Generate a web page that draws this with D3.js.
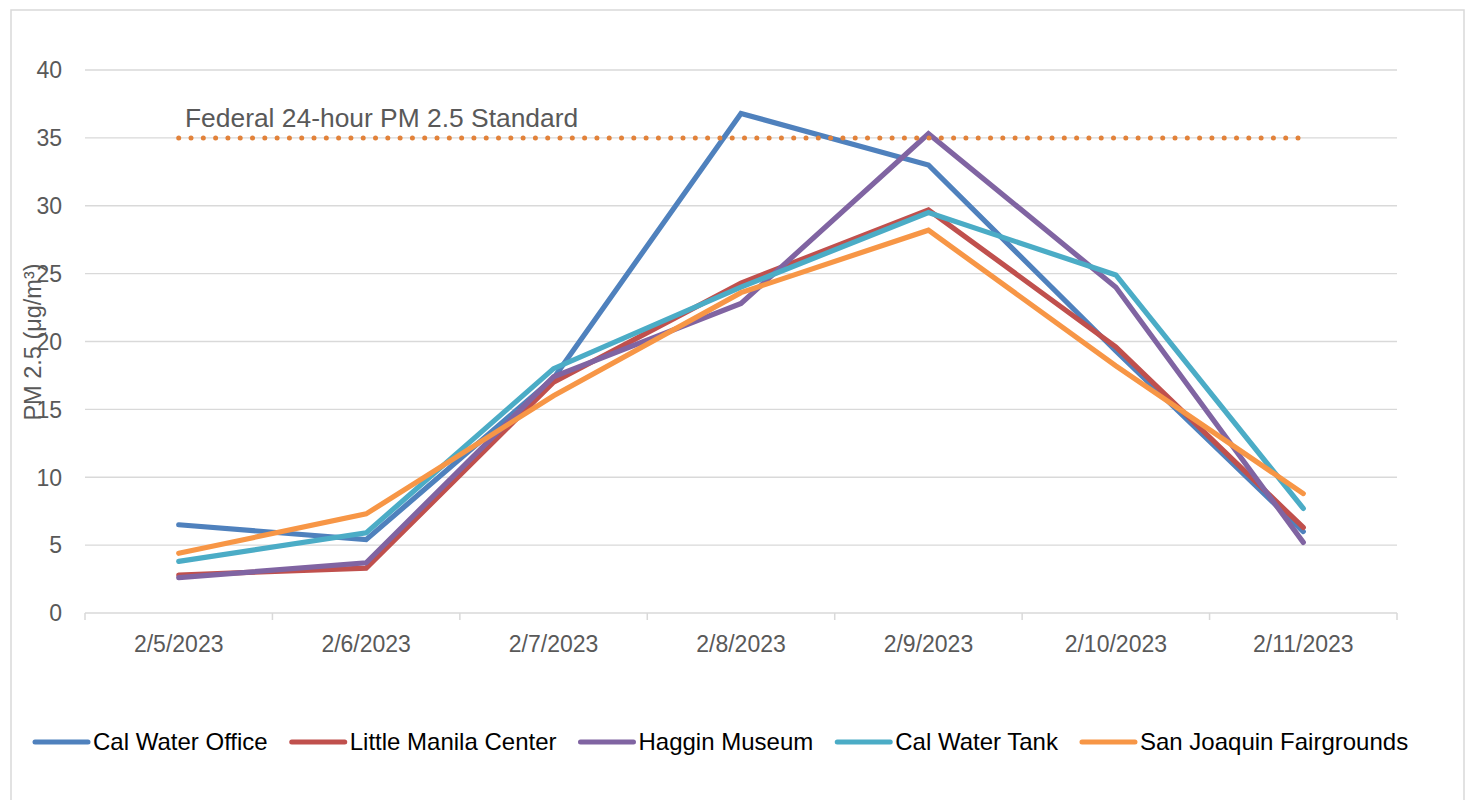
<!DOCTYPE html>
<html>
<head>
<meta charset="utf-8">
<script src="https://cdn.jsdelivr.net/npm/d3@7"></script>
<style>
  html, body { margin: 0; padding: 0; background: #fff; }
  svg { display: block; font-family: "Liberation Sans", Arial, sans-serif; }
</style>
</head>
<body>
<svg id="chart" width="1468" height="800"></svg>
<script>
const dates = ["2/5/2023", "2/6/2023", "2/7/2023", "2/8/2023", "2/9/2023", "2/10/2023", "2/11/2023"];
const yTicks = [0, 5, 10, 15, 20, 25, 30, 35, 40];

const calWaterOffice     = [6.5, 5.4, 17.3, 36.8, 33.0, 19.3, 6.0];
const littleManilaCenter = [2.8, 3.3, 17.0, 24.3, 29.7, 19.6, 6.3];
const hagginMuseum       = [2.6, 3.7, 17.4, 22.8, 35.3, 24.0, 5.2];
const calWaterTank       = [3.8, 5.9, 18.0, 24.0, 29.5, 24.9, 7.7];
const sanJoaquinFair     = [4.4, 7.3, 16.0, 23.6, 28.2, 18.2, 8.8];
const federalStandard    = [35, 35, 35, 35, 35, 35, 35];

const seriesNames = ["Cal Water Office", "Little Manila Center", "Haggin Museum", "Cal Water Tank", "San Joaquin Fairgrounds"];
const seriesColors = ["#4F81BD", "#C0504D", "#8064A2", "#4BACC6", "#F79646"];
const seriesValues = [calWaterOffice, littleManilaCenter, hagginMuseum, calWaterTank, sanJoaquinFair];

(function () {
const svg = d3.select("#chart");
const pLeft = 85, pRight = 1397, pTop = 70, pBottom = 613;
const grid = "#d9d9d9", textGray = "#595959";

// outer border
svg.append("rect").attr("x", 11).attr("y", 10).attr("width", 1453).attr("height", 800)
  .attr("fill", "none").attr("stroke", grid).attr("stroke-width", 1.5);

const x = d3.scaleBand().domain(dates).range([pLeft, pRight]).padding(0);
const cx = d => x(d) + x.bandwidth() / 2;
const y = d3.scaleLinear().domain([0, 40]).range([pBottom, pTop]);

// gridlines
svg.append("g").selectAll("line").data(yTicks.filter(t => t > 0)).join("line")
  .attr("x1", pLeft).attr("x2", pRight)
  .attr("y1", d => y(d)).attr("y2", d => y(d))
  .attr("stroke", grid).attr("stroke-width", 1.3);

// y axis labels
const yAxis = d3.axisLeft(y).tickValues(yTicks).tickSize(0).tickPadding(0);
const gy = svg.append("g").attr("transform", `translate(62,0)`).call(yAxis);
gy.select(".domain").remove();
gy.selectAll("text").attr("font-size", 23).attr("fill", textGray)
  .attr("font-family", "Liberation Sans, Arial, sans-serif").attr("dy", "0.34em");

// x axis
svg.append("line").attr("x1", pLeft).attr("x2", pRight).attr("y1", pBottom).attr("y2", pBottom)
  .attr("stroke", grid).attr("stroke-width", 1.5);
const boundaries = dates.map(d => x(d)).concat([pRight]);
svg.append("g").selectAll("line").data(boundaries).join("line")
  .attr("x1", d => d).attr("x2", d => d).attr("y1", pBottom).attr("y2", pBottom + 7)
  .attr("stroke", grid).attr("stroke-width", 1.5);
svg.append("g").selectAll("text").data(dates).join("text")
  .attr("x", d => cx(d)).attr("y", 652).attr("text-anchor", "middle")
  .attr("font-size", 23).attr("fill", textGray).text(d => d);

// y axis title
svg.append("text").attr("transform", "translate(41,342) rotate(-90)")
  .attr("text-anchor", "middle").attr("font-size", 23.5).attr("fill", textGray)
  .text("PM 2.5 (μg/m³)");

// series lines
const line = d3.line().x((d, i) => cx(dates[i])).y(d => y(d));
seriesValues.forEach((vals, k) => {
  svg.append("path").datum(vals).attr("d", line)
    .attr("fill", "none").attr("stroke", seriesColors[k]).attr("stroke-width", 5.2)
    .attr("stroke-linejoin", "miter").attr("stroke-linecap", "round");
});

// federal standard dotted line
svg.append("path").datum(federalStandard).attr("d", line)
  .attr("fill", "none").attr("stroke", "#E2823A").attr("stroke-width", 5)
  .attr("stroke-linecap", "round").attr("stroke-dasharray", "0 12.3");
svg.append("text").attr("x", 185).attr("y", 127).attr("font-size", 26.4).attr("fill", textGray)
  .text("Federal 24-hour PM 2.5 Standard");

// legend
let lx = 35;
const ly = 742;
seriesNames.forEach((name, k) => {
  svg.append("line").attr("x1", lx).attr("x2", lx + 53).attr("y1", ly).attr("y2", ly)
    .attr("stroke", seriesColors[k]).attr("stroke-width", 5).attr("stroke-linecap", "round");
  const t = svg.append("text").attr("x", lx + 58).attr("y", 750).attr("font-size", 24)
    .attr("fill", "#000").text(name);
  lx = lx + 58 + t.node().getComputedTextLength() + 24;
});
})();
</script>
</body>
</html>
